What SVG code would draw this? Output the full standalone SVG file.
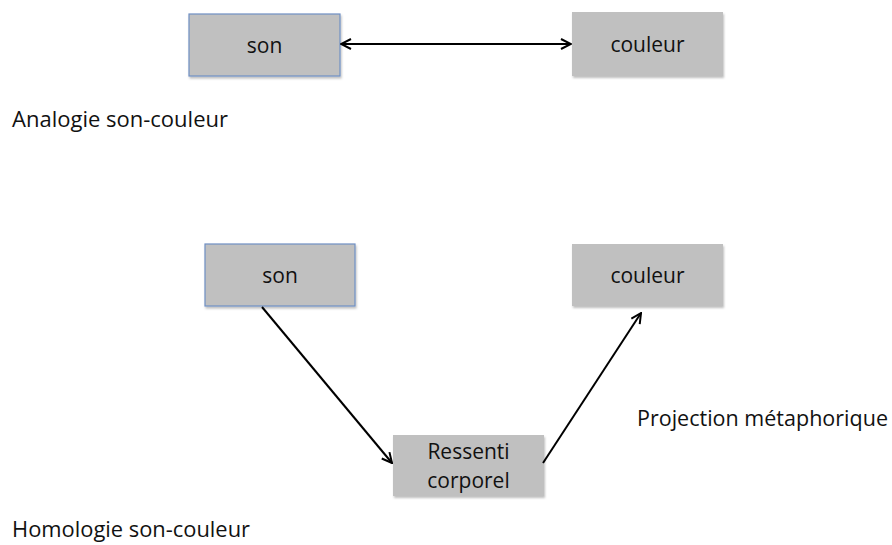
<svg xmlns="http://www.w3.org/2000/svg" width="892" height="545" viewBox="0 0 892 545">
<defs>
<filter id="sh" x="-10%" y="-10%" width="120%" height="130%">
<feDropShadow dx="1" dy="2" stdDeviation="1.2" flood-color="#000" flood-opacity="0.25"/>
</filter>
<marker id="ah" viewBox="0 0 12 12" refX="11" refY="6" markerWidth="12" markerHeight="12" markerUnits="userSpaceOnUse" orient="auto-start-reverse">
<path d="M1,1 L11,6 L1,11" fill="none" stroke="#000" stroke-width="2"/>
</marker>
</defs>
<style>
.box{fill:#c0c0c0;filter:url(#sh);}
.blue{stroke:#6f8fc4;stroke-width:1.2;}
.t{font-family:"Open Sans","Liberation Sans",sans-serif;font-size:21px;fill:#111;}
.c{text-anchor:middle;}
.ln{stroke:#000;stroke-width:2;fill:none;}
</style>
<rect width="892" height="545" fill="#fff"/>
<g id="son1"><rect class="box blue" x="189" y="14" width="151" height="62"/><text class="t c" x="264.5" y="53">son</text></g>
<g id="couleur1"><rect class="box" x="572" y="12" width="151" height="64"/><text class="t c" x="647.5" y="52">couleur</text></g>
<g id="son2"><rect class="box blue" x="205" y="244" width="150" height="62"/><text class="t c" x="280" y="283">son</text></g>
<g id="couleur2"><rect class="box" x="572" y="244" width="151" height="62"/><text class="t c" x="647.5" y="283">couleur</text></g>
<g id="ressenti"><rect class="box" x="393" y="435" width="151" height="61"/><text class="t c" x="468.5" y="459">Ressenti</text><text class="t c" x="468.5" y="488">corporel</text></g>
<g id="labels">
<text class="t" x="12" y="127" textLength="216" lengthAdjust="spacingAndGlyphs">Analogie son-couleur</text>
<text class="t" x="637" y="426" textLength="251" lengthAdjust="spacingAndGlyphs">Projection métaphorique</text>
<text class="t" x="12" y="537" textLength="238" lengthAdjust="spacingAndGlyphs">Homologie son-couleur</text>
</g>
<g id="connectors">
<line class="ln" x1="341" y1="44" x2="571" y2="44" marker-start="url(#ah)" marker-end="url(#ah)"/>
<line class="ln" x1="262" y1="307" x2="392" y2="463" marker-end="url(#ah)"/>
<line class="ln" x1="543" y1="463" x2="641" y2="313" marker-end="url(#ah)"/>
</g>
</svg>
